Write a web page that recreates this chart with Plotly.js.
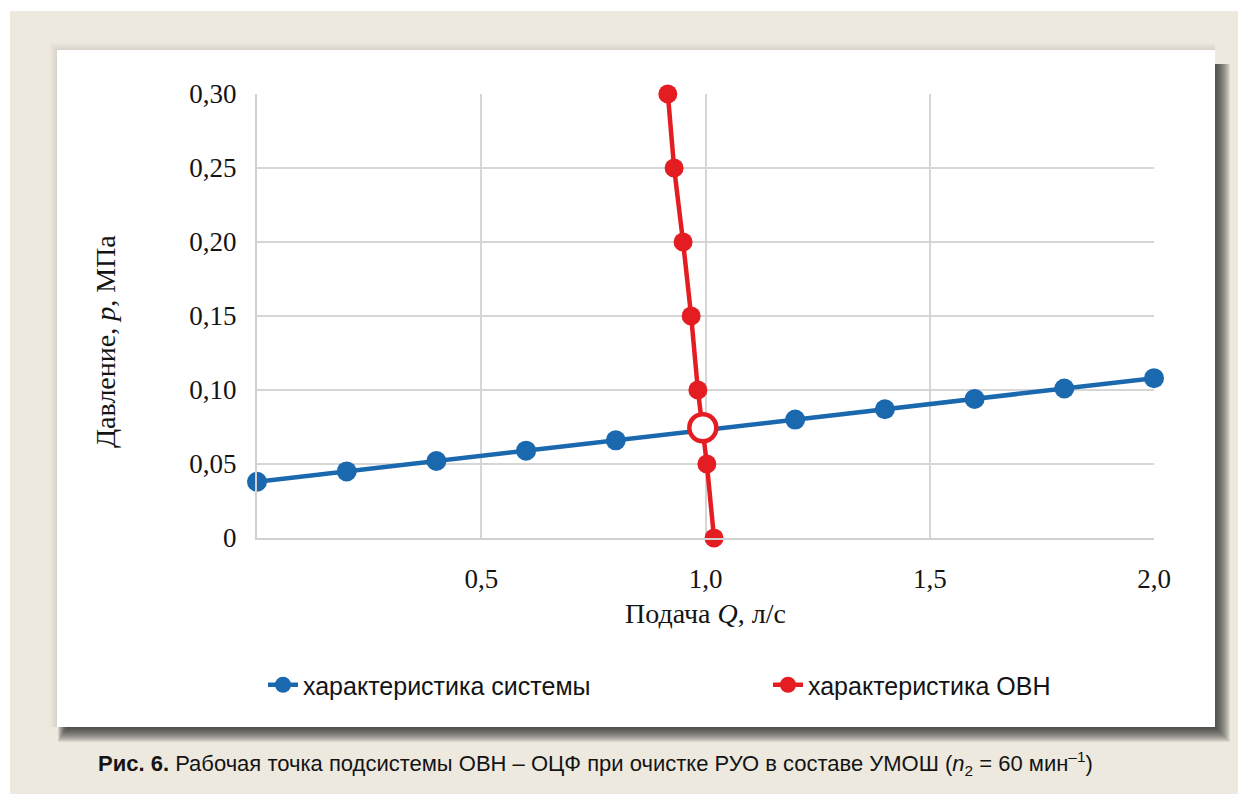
<!DOCTYPE html>
<html><head><meta charset="utf-8">
<script src="https://cdn.plot.ly/plotly-3.0.1.min.js"></script>
<style>html,body{margin:0;padding:0;background:#fff;}#chart{width:1247px;height:794px;}</style>
</head><body><div id="chart"></div>
<script>
// System characteristic
const qSystem = [0, 0.2, 0.4, 0.6, 0.8, 1.0, 1.2, 1.4, 1.6, 1.8, 2.0];
const pSystem = [0.038, 0.045, 0.052, 0.059, 0.066, 0.073, 0.080, 0.087, 0.094, 0.101, 0.108];
// Pump (ОВН) characteristic
const qPump = [0.916, 0.930, 0.950, 0.968, 0.983, 1.003, 1.019];
const pPump = [0.30, 0.25, 0.20, 0.15, 0.10, 0.05, 0];
// Operating point
const qWork = [0.994];
const pWork = [0.0745];
// Ticks
const xTickVals = [0.5, 1.0, 1.5, 2.0];
const xTickText = ['0,5', '1,0', '1,5', '2,0'];
const yTickVals = [0, 0.05, 0.10, 0.15, 0.20, 0.25, 0.30];
const yTickText = ['0', '0,05', '0,10', '0,15', '0,20', '0,25', '0,30'];
const seriesNames = ['характеристика системы', 'характеристика ОВН'];

const W = 1247, H = 794;
const L = 257, R = 93, T = 94, B = 256;
const pw = W - L - R, ph = H - T - B;
const px = x => (x - L) / pw;
const py = y => (H - B - y) / ph;

const serif = 'Liberation Serif, DejaVu Serif, serif';
const sans = 'Liberation Sans, Arial, sans-serif';
const blue = '#1a68ae';
const red = '#e41d23';
const txt = '#141414';

const traces = [
  {x: qSystem, y: pSystem, name: seriesNames[0], legend: 'legend', mode: 'lines+markers', cliponaxis: false,
   line: {color: blue, width: 4.5}, marker: {color: blue, size: 20}},
  {x: qPump, y: pPump, name: seriesNames[1], legend: 'legend2', mode: 'lines+markers', cliponaxis: false,
   line: {color: red, width: 4.5}, marker: {color: red, size: 19}},
  {x: qWork, y: pWork, name: 'рабочая точка', mode: 'markers', showlegend: false, cliponaxis: false,
   marker: {color: '#ffffff', size: 27, line: {color: red, width: 4.5}}}
];

const shapes = [];
const rect = (x0, x1, y0, y1, fill) => shapes.push({type: 'rect', xref: 'paper', yref: 'paper', layer: 'below',
  x0: px(x0), x1: px(x1), y0: py(y0), y1: py(y1), fillcolor: fill, line: {width: 0}});
// beige page
rect(10, 1238, 11, 800, '#ede9df');
// faint soft shadow top/left
for (let d = 7; d >= 1; d--) rect(57 - d, 1215, 50 - d, 727, 'rgba(120,120,110,0.018)');
// right/bottom shadow gradient
for (let d = 15; d >= 1; d--) rect(58 + (15 - d) * 0.6, 1215 + d, 64, 727 + d, 'rgba(30,30,30,0.085)');
// white panel
rect(57, 1215, 50, 727, '#ffffff');

const annotations = [
  {xref: 'paper', yref: 'paper', x: px(105), y: py(342), xanchor: 'center', yanchor: 'middle', showarrow: false,
   textangle: -90, text: 'Давление, <i>p</i>, МПа', font: {family: serif, size: 28, color: txt}},
  {xref: 'paper', yref: 'paper', x: px(96), y: py(763), xanchor: 'left', yanchor: 'middle', showarrow: false,
   text: '<b>Рис. 6.</b> Рабочая точка подсистемы ОВН – ОЦФ при очистке РУО в составе УМОШ (<i>n</i><sub>2</sub> = 60 мин<sup>–1</sup>)',
   font: {family: sans, size: 22, color: txt}}
];

const legendCommon = {orientation: 'h', yanchor: 'middle', y: py(685), xanchor: 'left',
  font: {family: sans, size: 25, color: txt}, bgcolor: 'rgba(0,0,0,0)', borderwidth: 0};

const layout = {
  width: W, height: H,
  margin: {l: L, r: R, t: T, b: B, pad: 0},
  paper_bgcolor: '#ffffff', plot_bgcolor: 'rgba(0,0,0,0)',
  showlegend: true,
  legend: Object.assign({}, legendCommon, {x: px(263)}),
  legend2: Object.assign({}, legendCommon, {x: px(768)}),
  xaxis: {range: [0, 2.0], tickvals: xTickVals, ticktext: xTickText, showgrid: true,
    gridcolor: '#d6d6d6', gridwidth: 2, zeroline: false, showline: true, linecolor: '#d0d0d0', linewidth: 2,
    ticks: '', ticklabelstandoff: 16, tickfont: {family: serif, size: 27, color: txt},
    title: {text: 'Подача <i>Q</i>, л/с', font: {family: serif, size: 28, color: txt}, standoff: 10}},
  yaxis: {range: [0, 0.30], tickvals: yTickVals, ticktext: yTickText, showgrid: true,
    gridcolor: '#d6d6d6', gridwidth: 2, zeroline: false, showline: true, linecolor: '#d0d0d0', linewidth: 2,
    ticks: '', ticklabelstandoff: 13, tickfont: {family: serif, size: 27, color: txt}},
  shapes: shapes, annotations: annotations
};

Plotly.newPlot('chart', traces, layout, {displayModeBar: false, staticPlot: true});
</script></body></html>
